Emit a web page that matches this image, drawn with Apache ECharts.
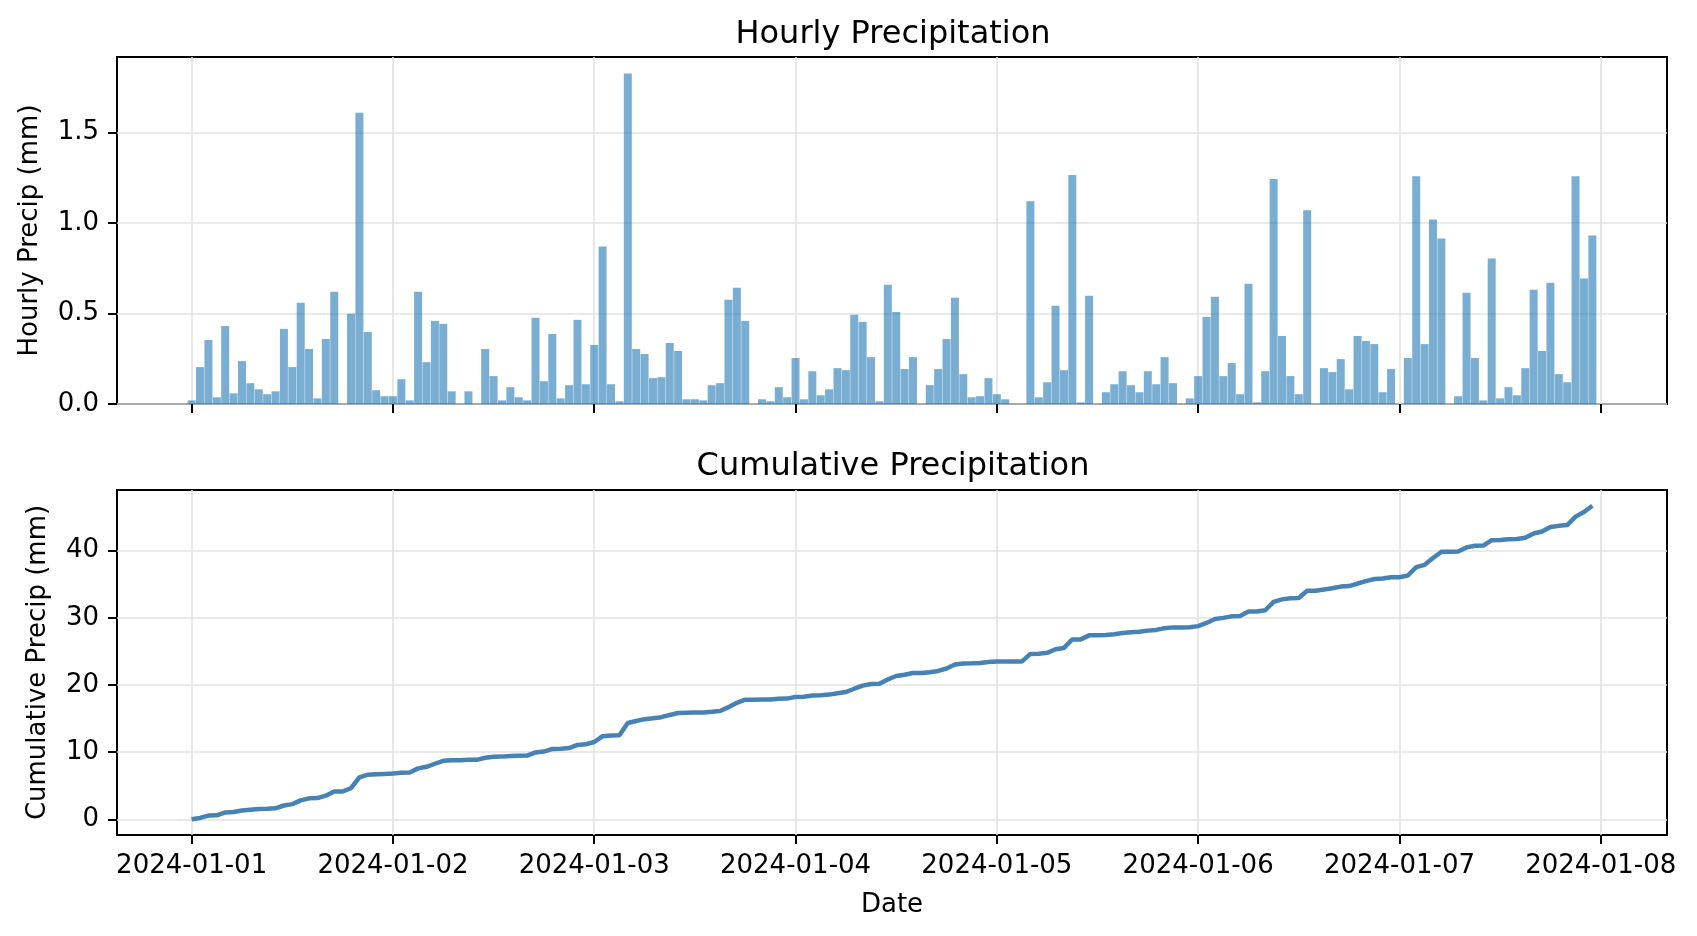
<!DOCTYPE html>
<html><head><meta charset="utf-8">
<script src="https://cdn.jsdelivr.net/npm/echarts@6/dist/echarts.min.js"></script>
<style>html,body{margin:0;padding:0;background:#fff}#c{width:1697px;height:936px}</style>
</head><body><div id="c"></div>
<script>
// Hourly precipitation (mm), hours 0..167 starting 2024-01-01 00:00
const hourlyPrecip = [
  0.020,0.204,0.354,0.037,0.431,0.059,0.237,0.115,0.081,0.054,0.070,0.415,
  0.204,0.559,0.304,0.031,0.359,0.620,0.000,0.498,1.609,0.398,0.076,0.043,
  0.043,0.137,0.020,0.620,0.231,0.459,0.443,0.070,0.000,0.070,0.000,0.304,
  0.154,0.020,0.093,0.037,0.020,0.476,0.126,0.387,0.031,0.104,0.465,0.109,
  0.326,0.870,0.109,0.015,1.826,0.304,0.276,0.143,0.148,0.337,0.293,0.026,
  0.026,0.020,0.104,0.115,0.576,0.643,0.459,0.000,0.026,0.015,0.093,0.037,
  0.254,0.026,0.181,0.048,0.081,0.198,0.187,0.493,0.454,0.259,0.015,0.659,
  0.509,0.193,0.259,0.000,0.104,0.193,0.359,0.587,0.165,0.037,0.043,0.143,
  0.054,0.026,0.000,0.000,1.120,0.037,0.120,0.543,0.187,1.265,0.009,0.598,
  0.000,0.065,0.109,0.181,0.104,0.065,0.181,0.109,0.259,0.115,0.000,0.031,
  0.154,0.481,0.593,0.154,0.226,0.054,0.665,0.009,0.181,1.243,0.376,0.154,
  0.054,1.070,0.000,0.198,0.176,0.248,0.081,0.376,0.348,0.331,0.065,0.193,
  0.000,0.254,1.259,0.331,1.020,0.915,0.000,0.043,0.615,0.254,0.020,0.804,
  0.031,0.093,0.048,0.198,0.631,0.293,0.670,0.165,0.120,1.259,0.693,0.931
];
const dayTickHours = [0, 24, 48, 72, 96, 120, 144, 168];
const dayTickLabels = ['2024-01-01','2024-01-02','2024-01-03','2024-01-04','2024-01-05','2024-01-06','2024-01-07','2024-01-08'];
const hourlyYTicks = [0, 0.5, 1.0, 1.5];
const cumulativeYTicks = [0, 10, 20, 30, 40];

const hours = hourlyPrecip.map((_, i) => i);
let run = 0;
const cumulative = hourlyPrecip.map(v => (run += v));

// axis extents (matplotlib-like 5% margins)
const n = hourlyPrecip.length;
const xMin = -0.5 - 0.05 * n;
const xMax = (n - 0.5) + 0.05 * n;
const topMax = Math.max(...hourlyPrecip) * 1.05;
const cMin = Math.min(...cumulative), cMax = Math.max(...cumulative);
const botMin = cMin - 0.05 * (cMax - cMin);
const botMax = cMax + 0.05 * (cMax - cMin);

const FONT = 'DejaVu Sans';
const gridLine = {show: true, lineStyle: {color: '#e2e2e2', width: 1.6}};
const tickStyle = {show: true, inside: false, length: 9, lineStyle: {color: '#000', width: 2}};
const noLine = {show: false, onZero: false};

const chart = echarts.init(document.getElementById('c'), null, {renderer: 'canvas'});
chart.setOption({
  backgroundColor: '#fff',
  animation: false,
  textStyle: {fontFamily: FONT, color: '#000'},
  title: [
    {text: 'Hourly Precipitation', left: 888, top: 14, textAlign: 'center',
     textStyle: {fontFamily: FONT, fontSize: 32, fontWeight: 'normal', color: '#000'}},
    {text: 'Cumulative Precipitation', left: 888, top: 446, textAlign: 'center',
     textStyle: {fontFamily: FONT, fontSize: 32, fontWeight: 'normal', color: '#000'}}
  ],
  grid: [
    {left: 117, top: 57, width: 1550, height: 347, show: true, borderColor: '#000', borderWidth: 2, backgroundColor: 'transparent'},
    {left: 117, top: 490, width: 1550, height: 345, show: true, borderColor: '#000', borderWidth: 2, backgroundColor: 'transparent'}
  ],
  xAxis: [
    {gridIndex: 0, type: 'value', min: xMin, max: xMax, position: 'bottom',
     axisLine: noLine,
     axisTick: Object.assign({customValues: dayTickHours}, tickStyle),
     axisLabel: {show: false, customValues: dayTickHours},
     splitLine: gridLine},
    {gridIndex: 1, type: 'value', min: xMin, max: xMax, position: 'bottom',
     axisLine: noLine,
     axisTick: Object.assign({customValues: dayTickHours}, tickStyle),
     axisLabel: {show: true, customValues: dayTickHours, margin: 18,
       fontFamily: FONT, fontSize: 26, color: '#000',
       formatter: v => dayTickLabels[dayTickHours.indexOf(Math.round(v))] || ''},
     splitLine: gridLine,
     name: 'Date', nameLocation: 'middle', nameGap: 57,
     nameTextStyle: {fontFamily: FONT, fontSize: 26, color: '#000'}}
  ],
  yAxis: [
    {gridIndex: 0, type: 'value', min: 0, max: topMax, position: 'left',
     axisLine: noLine,
     axisTick: Object.assign({customValues: hourlyYTicks}, tickStyle),
     axisLabel: {customValues: hourlyYTicks, margin: 18, fontFamily: FONT, fontSize: 26, color: '#000',
       formatter: v => v.toFixed(1)},
     splitLine: gridLine,
     name: 'Hourly Precip (mm)', nameLocation: 'middle', nameGap: 74,
     nameTextStyle: {fontFamily: FONT, fontSize: 26, color: '#000'}},
    {gridIndex: 1, type: 'value', min: botMin, max: botMax, position: 'left',
     axisLine: noLine,
     axisTick: Object.assign({customValues: cumulativeYTicks}, tickStyle),
     axisLabel: {customValues: cumulativeYTicks, margin: 18, fontFamily: FONT, fontSize: 26, color: '#000',
       formatter: v => String(Math.round(v))},
     splitLine: gridLine,
     name: 'Cumulative Precip (mm)', nameLocation: 'middle', nameGap: 66,
     nameTextStyle: {fontFamily: FONT, fontSize: 26, color: '#000'}}
  ],
  series: [
    {type: 'bar', xAxisIndex: 0, yAxisIndex: 0, barWidth: 8,
     itemStyle: {color: 'rgba(31,119,180,0.6)'},
     data: hours.map((h, i) => [h, hourlyPrecip[i]])},
    {type: 'line', xAxisIndex: 1, yAxisIndex: 1, showSymbol: false, symbol: 'none',
     lineStyle: {color: '#4682b4', width: 4.5}, z: 3,
     data: hours.map((h, i) => [h, cumulative[i]])}
  ]
});
</script>
</body></html>
